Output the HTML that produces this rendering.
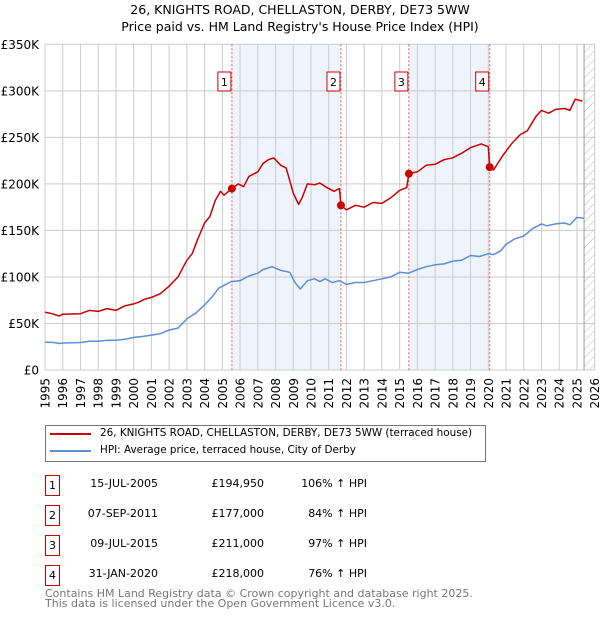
<!DOCTYPE html>
<html><head><meta charset="utf-8"><style>
body{margin:0;background:#fff;font-family:"DejaVu Sans","Liberation Sans",sans-serif;}
#wrap{position:relative;width:600px;height:620px;overflow:hidden;}
.t{position:absolute;white-space:nowrap;font-size:11.5px;color:#000;}
</style></head><body>
<div id="wrap">
<div class="t" style="left:0;width:600px;text-align:center;top:2px;font-size:12.5px;">26, KNIGHTS ROAD, CHELLASTON, DERBY, DE73 5WW</div>
<div class="t" style="left:0;width:600px;text-align:center;top:19px;font-size:12.5px;">Price paid vs. HM Land Registry's House Price Index (HPI)</div>
<svg id="chart" width="600" height="415" style="position:absolute;left:0;top:0" font-family="DejaVu Sans, Liberation Sans, sans-serif"></svg>

<div style="position:absolute;left:45px;top:425px;width:439px;height:35px;border:1px solid #777;"></div>
<div style="position:absolute;left:50px;top:433px;width:41px;height:2px;background:#cc0000"></div>
<div class="t" style="left:100px;top:427px;font-size:10.4px;">26, KNIGHTS ROAD, CHELLASTON, DERBY, DE73 5WW (terraced house)</div>
<div style="position:absolute;left:50px;top:450px;width:41px;height:2px;background:#5b8fd6"></div>
<div class="t" style="left:100px;top:444px;font-size:10.4px;">HPI: Average price, terraced house, City of Derby</div>

<div id="rows"></div>

<div class="t" style="left:45px;top:589px;font-size:11px;color:#777;line-height:10px;">Contains HM Land Registry data © Crown copyright and database right 2025.<br>This data is licensed under the Open Government Licence v3.0.</div>
</div>
<script>
const saleYears=[2005.54,2011.69,2015.52,2020.08];
const salePrices=[194950,177000,211000,218000];
const saleDates=["15-JUL-2005","07-SEP-2011","09-JUL-2015","31-JAN-2020"];
const salePriceLabels=["£194,950","£177,000","£211,000","£218,000"];
const saleHpiLabels=["106% ↑ HPI","84% ↑ HPI","97% ↑ HPI","76% ↑ HPI"];
const hpiYears=[1995,1995.5,1995.8,1996,1997,1997.5,1998,1998.5,1999,1999.5,2000,2000.5,2001,2001.5,2002,2002.5,2003,2003.5,2004,2004.4,2004.8,2005.2,2005.5,2006,2006.5,2007,2007.3,2007.8,2008.3,2008.8,2009.1,2009.4,2009.8,2010.2,2010.5,2010.8,2011.2,2011.6,2012,2012.5,2013,2013.5,2014,2014.5,2015,2015.5,2016,2016.5,2017,2017.5,2018,2018.5,2019,2019.5,2020,2020.3,2020.7,2021,2021.5,2022,2022.5,2023,2023.3,2023.8,2024.3,2024.6,2025,2025.4];
const hpiValues=[30,29.5,28.5,29,29.5,31,31,32,32,33,35,36,37.5,39,43,45,55,61,70,78,88,92,95,96,101,104,108,111,107,105,94,87,96,98,95,98,94,96,92,94,94,96,98,100,105,104,108,111,113,114,117,118,123,122,125,124,128,135,141,144,152,157,155,157,158,156,164,163];
const propYears=[1995,1995.3,1995.8,1996,1997,1997.5,1998,1998.5,1999,1999.5,2000,2000.3,2000.6,2001,2001.5,2002,2002.5,2003,2003.3,2003.6,2004,2004.3,2004.6,2004.9,2005.1,2005.54,2005.9,2006.2,2006.5,2007,2007.3,2007.6,2007.9,2008.3,2008.6,2009,2009.3,2009.5,2009.8,2010.2,2010.5,2010.9,2011.3,2011.6,2011.69,2012,2012.5,2013,2013.5,2014,2014.5,2015,2015.4,2015.52,2016,2016.5,2017,2017.5,2018,2018.5,2019,2019.6,2020,2020.08,2020.3,2020.8,2021.3,2021.8,2022.2,2022.7,2023,2023.4,2023.8,2024.3,2024.6,2024.9,2025.3];
const propValues=[62,61,58,60,60.5,64,63,66,64,69,71,73,76,78,82,90,100,118,125,140,158,165,182,192,188,194.95,200,197,208,213,222,226,228,220,217,190,178,185,200,199,201,196,192,195,177,172,177,175,180,179,185,193,196,211,213,220,221,226,228,233,239,243,240,218,215,230,243,253,257,273,279,276,280,281,279,291,289];
const yTicks=[0,50,100,150,200,250,300,350];
const yTickLabels=["£0","£50K","£100K","£150K","£200K","£250K","£300K","£350K"];
const xTicks=[1995,1996,1997,1998,1999,2000,2001,2002,2003,2004,2005,2006,2007,2008,2009,2010,2011,2012,2013,2014,2015,2016,2017,2018,2019,2020,2021,2022,2023,2024,2025,2026];
const dataEnd=2025.4;

const X0=45,X1=594.7,Y0=370,Y1=44.3;
const xs=y=>X0+(y-1995)/(2026-1995)*(X1-X0);
const ys=v=>Y0-v/350*(Y0-Y1);
const svg=document.getElementById('chart');
const NS="http://www.w3.org/2000/svg";
function mk(tag,attrs,parent){const e=document.createElementNS(NS,tag);for(const k in attrs)e.setAttribute(k,attrs[k]);(parent||svg).appendChild(e);return e;}

for(let i=0;i<4;i+=2){
  const r=mk('rect',{x:xs(saleYears[i]),y:Y1,width:xs(saleYears[i+1])-xs(saleYears[i]),height:Y0-Y1,fill:'#eef3fc'});
  
  
}
const defs=mk('defs',{});
const pat=mk('pattern',{id:'hatch',width:6,height:6,patternUnits:'userSpaceOnUse',patternTransform:'rotate(45)'},defs);
mk('line',{x1:0,y1:0,x2:0,y2:6,stroke:'#bbb','stroke-width':1},pat);
const hr=mk('rect',{x:xs(dataEnd),y:Y1,width:X1-xs(dataEnd),height:Y0-Y1,fill:'url(#hatch)'});


xTicks.forEach(t=>{
  const l=mk('line',{x1:xs(t),x2:xs(t),y1:Y1,y2:Y0,stroke:'#ccc','stroke-width':1});
  
  
  const tx=mk('text',{x:0,y:0,'font-size':12,'text-anchor':'end',transform:`translate(${xs(t)+4.5},378) rotate(-90)`});
  tx.textContent=t;
  
  
});
yTicks.forEach((t,i)=>{
  const l=mk('line',{x1:X0,x2:X1,y1:ys(t),y2:ys(t),stroke:'#ccc','stroke-width':1});
  
  
  const tx=mk('text',{x:39,y:ys(t)+4.5,'font-size':12,'text-anchor':'end'});
  tx.textContent=yTickLabels[i];
  
  
});
const vl=mk('line',{x1:xs(dataEnd),x2:xs(dataEnd),y1:Y1,y2:Y0,stroke:'#999','stroke-width':1});


saleYears.forEach((s,i)=>{
  const l=mk('line',{x1:xs(s),x2:xs(s),y1:Y1,y2:Y0,stroke:'#e55','stroke-width':1,'stroke-dasharray':'2,2'});
  
  
  const b=mk('rect',{x:xs(s)-14,y:72,width:13,height:19,fill:'#fff',stroke:'#cc0000','stroke-width':1});
  
  
  const t=mk('text',{x:xs(s)-7.5,y:86,'font-size':11,'text-anchor':'middle'});
  t.textContent=i+1;
  
  
});
function path(xa,va){return xa.map((x,i)=>(i?'L':'M')+xs(x).toFixed(1)+','+ys(va[i]).toFixed(1)).join('');}
const hp=mk('path',{d:path(hpiYears,hpiValues),fill:'none',stroke:'#5b8fd6','stroke-width':1.5,'stroke-linejoin':'round'});


const pp=mk('path',{d:path(propYears,propValues),fill:'none',stroke:'#cc0000','stroke-width':1.5,'stroke-linejoin':'round'});


saleYears.forEach((s,i)=>{
  const c=mk('circle',{cx:xs(s),cy:ys(salePrices[i]/1000),r:4,fill:'#cc0000'});
  
  
});
const rows=document.getElementById('rows');
saleDates.forEach((d,i)=>{
  const top=475+i*30;
  const box=document.createElement('div');
  box.style.cssText=`position:absolute;left:45px;top:${top}px;width:13px;height:19px;border:1px solid #cc0000;font-size:11px;text-align:center;line-height:19px;`;
  box.textContent=i+1;
  
  
  rows.appendChild(box);
  const cells=[[d,158],[salePriceLabels[i],264],[saleHpiLabels[i],367]];
  const names=['table-row-date','table-row-price','table-row-hpi'];
  cells.forEach((c,j)=>{
    const e=document.createElement('div');
    e.className='t';
    e.style.cssText=`right:${600-c[1]}px;top:${top+2}px;font-size:11px;`;
    e.textContent=c[0];
    
    
    rows.appendChild(e);
  });
});
</script>
</body></html>
